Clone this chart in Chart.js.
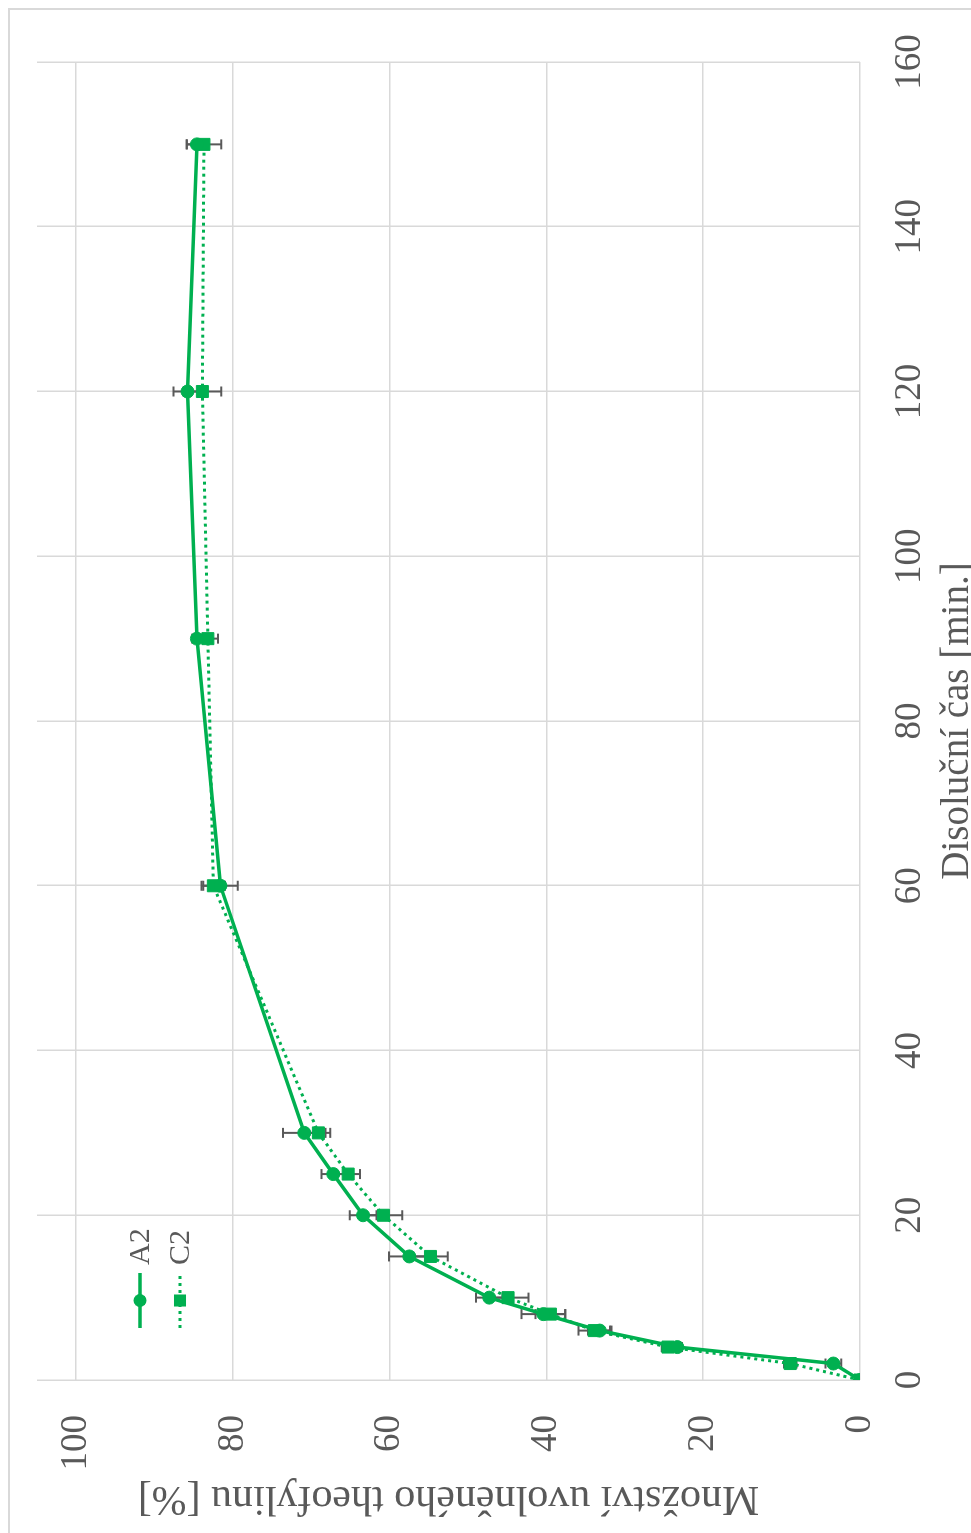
<!DOCTYPE html>
<html>
<head>
<meta charset="utf-8">
<script src="https://cdn.jsdelivr.net/npm/chart.js@4.4.1/dist/chart.umd.min.js"></script>
<style>
  html, body { margin: 0; padding: 0; background: #fff; width: 971px; height: 1533px; overflow: hidden; }
  #frame { position: absolute; left: 8px; top: 8px; width: 963px; height: 1525px; box-sizing: border-box;
           border-left: 2px solid #d9d9d9; border-top: 2px solid #d9d9d9; }
  /* chart is drawn landscape and turned a quarter turn to the left */
  #wrap { position: absolute; left: -281px; top: 281px; width: 1533px; height: 971px; transform: rotate(-90deg); }
</style>
</head>
<body>
<div id="frame"></div>
<div id="wrap"><canvas id="chart" width="1533" height="971"></canvas></div>
<script>
// dissolution time [min]
const times = [0, 2, 4, 6, 8, 10, 15, 20, 25, 30, 60, 90, 120, 150];
// released theophylline [%]
const a2 = [0, 3.4, 23.3, 33.2, 40.4, 47.3, 57.5, 63.4, 67.2, 70.9, 81.6, 84.6, 85.8, 84.6];
const c2 = [0, 8.9, 24.5, 33.9, 39.5, 44.9, 54.8, 60.8, 65.3, 69.1, 82.5, 83.2, 83.9, 83.7];
// standard deviations
const a2Err = [0, 1.0, 0.6, 1.5, 2.8, 1.7, 2.6, 1.7, 1.5, 2.7, 2.2, 0.6, 1.8, 1.3];
const c2Err = [0, 0.8, 0.8, 2.0, 1.9, 2.6, 2.2, 2.4, 1.5, 1.5, 1.5, 1.3, 2.4, 2.2];

const timeTicks = [0, 20, 40, 60, 80, 100, 120, 140, 160];
const pctTicks = [0, 20, 40, 60, 80, 100];

const green = "#00b050";
const grey = "#595959";
const gridGrey = "#d9d9d9";
const serif = "'Liberation Serif', 'Times New Roman', serif";

const errorBars = {
  id: "errorBars",
  beforeDatasetsDraw(chart) {
    const ctx = chart.ctx;
    const yScale = chart.scales.y;
    chart.data.datasets.forEach((ds, i) => {
      const meta = chart.getDatasetMeta(i);
      meta.data.forEach((pt, j) => {
        const e = ds.errors[j];
        if (!e) return;
        const v = ds.data[j].y;
        const hi = yScale.getPixelForValue(v + e);
        const lo = yScale.getPixelForValue(v - e);
        ctx.save();
        ctx.strokeStyle = grey;
        ctx.lineWidth = 2;
        ctx.beginPath();
        ctx.moveTo(pt.x, hi); ctx.lineTo(pt.x, lo);
        ctx.moveTo(pt.x - 5, hi); ctx.lineTo(pt.x + 5, hi);
        ctx.moveTo(pt.x - 5, lo); ctx.lineTo(pt.x + 5, lo);
        ctx.stroke();
        ctx.restore();
      });
    });
  }
};

// legend sits inside the plot, entries stacked
const innerLegend = {
  id: "innerLegend",
  afterDraw(chart) {
    const ctx = chart.ctx;
    chart.data.datasets.forEach((ds, i) => {
      const y = 140 + i * 40;
      const x0 = 205, x1 = 260, xm = (x0 + x1) / 2;
      ctx.save();
      ctx.strokeStyle = ds.borderColor;
      ctx.lineWidth = ds.borderWidth;
      ctx.setLineDash(ds.borderDash || []);
      ctx.beginPath();
      ctx.moveTo(x0, y); ctx.lineTo(x1, y);
      ctx.stroke();
      ctx.setLineDash([]);
      ctx.fillStyle = ds.pointBackgroundColor;
      if (ds.pointStyle === "rect") {
        const s = Math.SQRT1_2 * ds.pointRadius;
        ctx.fillRect(xm - s, y - s, 2 * s, 2 * s);
      } else {
        ctx.beginPath();
        ctx.arc(xm, y, ds.pointRadius, 0, Math.PI * 2);
        ctx.fill();
      }
      ctx.fillStyle = grey;
      ctx.font = "30px " + serif;
      ctx.textBaseline = "middle";
      ctx.fillText(ds.label, 268, y + 1);
      ctx.restore();
    });
  }
};

const ctx = document.getElementById("chart").getContext("2d");
new Chart(ctx, {
  type: "line",
  data: {
    datasets: [
      {
        label: "A2",
        data: times.map((t, i) => ({ x: t, y: a2[i] })),
        errors: a2Err,
        borderColor: green,
        borderWidth: 3.5,
        pointStyle: "circle",
        pointRadius: 6.5,
        pointBackgroundColor: green,
        pointBorderColor: green,
        pointBorderWidth: 1,
        tension: 0,
      },
      {
        label: "C2",
        data: times.map((t, i) => ({ x: t, y: c2[i] })),
        errors: c2Err,
        borderColor: green,
        borderWidth: 3,
        borderDash: [3, 4],
        pointStyle: "rect",
        pointRadius: 8.5,
        pointBackgroundColor: green,
        pointBorderColor: green,
        pointBorderWidth: 1,
        tension: 0,
      },
    ],
  },
  options: {
    responsive: false,
    animation: false,
    layout: { padding: { left: 0, right: 62, top: 37, bottom: 0 } },
    plugins: { legend: { display: false }, tooltip: { enabled: false } },
    scales: {
      x: {
        type: "linear",
        min: 0,
        max: 160,
        afterBuildTicks: (s) => { s.ticks = timeTicks.map((v) => ({ value: v })); },
        afterFit: (s) => { s.height = 111; },
        grid: { color: gridGrey, lineWidth: 1.5, drawTicks: false },
        border: { display: false },
        ticks: { padding: 28, color: grey, maxRotation: 0, font: { family: serif, size: 37 } },
        title: {
          display: true,
          text: "Disoluční čas [min.]",
          color: grey,
          font: { family: serif, size: 39, lineHeight: 1 },
          padding: { top: 0, bottom: -6 },
        },
      },
      y: {
        min: 0,
        max: 105,
        afterBuildTicks: (s) => { s.ticks = pctTicks.map((v) => ({ value: v })); },
        afterFit: (s) => { s.width = 153; },
        // invisible tick marks make the gap between labels and plot
        grid: { color: gridGrey, lineWidth: 1.5, drawTicks: true, tickLength: 35, tickColor: "rgba(0,0,0,0)" },
        border: { display: false },
        ticks: { padding: 0, color: grey, font: { family: serif, size: 37 } },
        title: {
          display: true,
          text: "Množství uvolněného theofylinu [%]",
          color: grey,
          font: { family: serif, size: 42, lineHeight: 1 },
          padding: { top: 14, bottom: 0 },
        },
      },
    },
  },
  plugins: [errorBars, innerLegend],
});
</script>
</body>
</html>
